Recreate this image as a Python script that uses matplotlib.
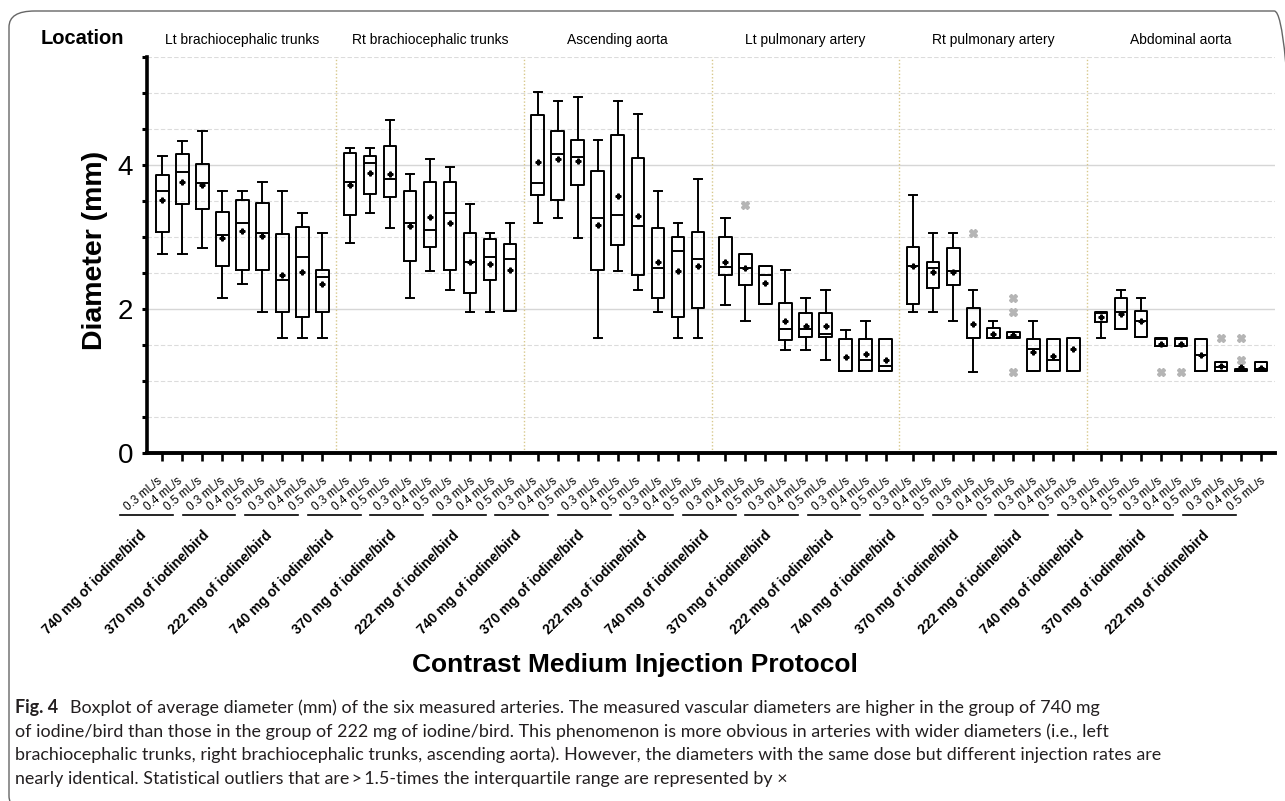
import matplotlib
matplotlib.use("Agg")
import matplotlib.pyplot as plt
import matplotlib.transforms as mtransforms
from matplotlib import font_manager
from matplotlib.lines import Line2D
from matplotlib.patches import FancyBboxPatch
import numpy as np

arteries = ["Lt brachiocephalic trunks", "Rt brachiocephalic trunks", "Ascending aorta",
            "Lt pulmonary artery", "Rt pulmonary artery", "Abdominal aorta"]
doses = ["740 mg of iodine/bird", "370 mg of iodine/bird", "222 mg of iodine/bird"]
rates = ["0.3 mL/s", "0.4 mL/s", "0.5 mL/s"]

# one row per artery, 9 boxes each (740/370/222 mg x 0.3/0.4/0.5 mL/s)
whishi = [
    [4.13, 4.33, 4.47, 3.64, 3.64, 3.76, 3.64, 3.33, 3.06],
    [4.24, 4.24, 4.62, 3.87, 4.09, 3.98, 3.46, 3.06, 3.20],
    [5.02, 4.89, 4.94, 4.35, 4.89, 4.71, 3.64, 3.20, 3.81],
    [3.26, 2.76, 2.60, 2.54, 2.16, 2.27, 1.71, 1.84, 1.59],
    [3.58, 3.06, 3.06, 2.27, 1.84, 1.68, 1.84, 1.59, 1.60],
    [1.96, 2.27, 2.16, 1.60, 1.60, 1.59, 1.27, 1.17, 1.27],
]
q3 = [
    [3.86, 4.15, 4.02, 3.35, 3.52, 3.47, 3.04, 3.14, 2.54],
    [4.17, 4.13, 4.27, 3.64, 3.76, 3.76, 3.06, 2.98, 2.91],
    [4.69, 4.47, 4.35, 3.92, 4.42, 4.10, 3.12, 3.00, 3.07],
    [3.00, 2.76, 2.60, 2.08, 1.95, 1.95, 1.59, 1.59, 1.59],
    [2.87, 2.66, 2.85, 2.02, 1.74, 1.68, 1.59, 1.59, 1.60],
    [1.96, 2.15, 1.97, 1.60, 1.60, 1.59, 1.27, 1.17, 1.27],
]
med = [
    [3.64, 3.91, 3.75, 3.03, 3.20, 3.06, 2.40, 2.73, 2.44],
    [3.77, 4.03, 3.81, 3.20, 3.10, 3.33, 2.65, 2.73, 2.69],
    [3.75, 4.16, 4.11, 3.26, 3.31, 3.16, 2.57, 2.81, 2.69],
    [2.58, 2.57, 2.48, 1.73, 1.73, 1.66, 1.14, 1.29, 1.21],
    [2.60, 2.57, 2.53, 1.60, 1.60, 1.62, 1.45, 1.29, 1.60],
    [1.95, 1.96, 1.84, 1.59, 1.59, 1.37, 1.20, 1.14, 1.17],
]
mean = [
    [3.52, 3.77, 3.72, 2.99, 3.08, 3.01, 2.47, 2.51, 2.35],
    [3.72, 3.89, 3.87, 3.16, 3.28, 3.19, 2.65, 2.63, 2.55],
    [4.04, 4.08, 4.05, 3.17, 3.57, 3.29, 2.66, 2.53, 2.60],
    [2.66, 2.57, 2.37, 1.83, 1.76, 1.76, 1.33, 1.38, 1.30],
    [2.60, 2.52, 2.52, 1.80, 1.66, 1.64, 1.41, 1.35, 1.45],
    [1.89, 1.94, 1.83, 1.51, 1.51, 1.37, 1.21, 1.20, 1.18],
]
q1 = [
    [3.07, 3.46, 3.39, 2.60, 2.54, 2.54, 1.96, 1.89, 1.96],
    [3.31, 3.60, 3.56, 2.67, 2.86, 2.54, 2.22, 2.40, 1.97],
    [3.58, 3.51, 3.73, 2.54, 2.89, 2.47, 2.15, 1.89, 2.02],
    [2.47, 2.34, 2.07, 1.57, 1.61, 1.61, 1.14, 1.14, 1.14],
    [2.07, 2.29, 2.33, 1.60, 1.60, 1.60, 1.14, 1.14, 1.14],
    [1.82, 1.73, 1.61, 1.49, 1.49, 1.14, 1.14, 1.14, 1.14],
]
whislo = [
    [2.77, 2.77, 2.85, 2.16, 2.35, 1.96, 1.60, 1.60, 1.60],
    [2.92, 3.33, 3.13, 2.16, 2.53, 2.27, 1.96, 1.96, 1.97],
    [3.20, 3.26, 2.99, 1.60, 2.53, 2.27, 1.96, 1.60, 1.60],
    [2.06, 1.84, 2.07, 1.44, 1.44, 1.29, 1.14, 1.14, 1.14],
    [1.96, 1.96, 1.84, 1.13, 1.60, 1.60, 1.14, 1.14, 1.14],
    [1.60, 1.73, 1.61, 1.49, 1.49, 1.14, 1.14, 1.14, 1.14],
]
# outliers: (artery, box) -> values
outliers = {
    (3, 1): [3.45],
    (4, 3): [3.06],
    (4, 5): [2.16, 1.96, 1.13],
    (5, 3): [1.13],
    (5, 4): [1.13],
    (5, 6): [1.60],
    (5, 7): [1.60, 1.29],
}

caption = [
    "Boxplot of average diameter (mm) of the six measured arteries. The measured vascular diameters are higher in the group of 740 mg",
    "of iodine/bird than those in the group of 222 mg of iodine/bird. This phenomenon is more obvious in arteries with wider diameters (i.e., left",
    "brachiocephalic trunks, right brachiocephalic trunks, ascending aorta). However, the diameters with the same dose but different injection rates are",
    "nearly identical. Statistical outliers that are\u2009>\u20091.5-times the interquartile range are represented by \u00d7",
]

W, H = 1285, 801
GROUP_STEP = 9.38


def fx(x):
    return x / W


def fy(y):
    return 1 - y / H


plt.rcParams["font.family"] = ["Liberation Sans", "DejaVu Sans"]

fig = plt.figure(figsize=(W / 100, H / 100), dpi=100)
ax = fig.add_axes([fx(146.7), fy(453.3), (1275 - 146.7) / W, (453.3 - 57) / H])

stats = []
positions = []
for g in range(6):
    for i in range(9):
        stats.append(dict(med=med[g][i], q1=q1[g][i], q3=q3[g][i],
                          whislo=whislo[g][i], whishi=whishi[g][i],
                          mean=mean[g][i], fliers=outliers.get((g, i), [])))
        positions.append(g * GROUP_STEP + i)

line = dict(color="black", linewidth=1.4)
ax.bxp(stats, positions=positions, widths=0.63, capwidths=0.42, showmeans=True,
       boxprops=line, whiskerprops=line, capprops=line,
       medianprops=line,
       meanprops=dict(marker="P", markersize=3.5, markerfacecolor="black",
                      markeredgecolor="black"),
       flierprops=dict(marker="X", markersize=6, markerfacecolor="#b5b5b5",
                       markeredgecolor="#b5b5b5"),
       manage_ticks=False, zorder=3)

# grid
for v in np.arange(0.5, 5.51, 0.5):
    if v in (2.0, 4.0):
        ax.axhline(v, color="#d6d6d6", lw=1.0, zorder=0)
    else:
        ax.axhline(v, color="#dcdcdc", lw=0.8, ls=(0, (4, 2)), zorder=0)
for g in range(1, 6):
    ax.axvline(g * GROUP_STEP - (GROUP_STEP - 8) / 2, color="#d8c88c", lw=1.0,
               ls=(0, (1, 1.5)), zorder=0)

ax.set_xlim(-0.78, 55.6)
ax.set_ylim(0, 5.5)
for s in ("top", "right"):
    ax.spines[s].set_visible(False)
ax.spines["left"].set_linewidth(2.6)
ax.spines["bottom"].set_linewidth(2.8)

ax.set_xticks(positions)
ax.set_xticklabels([])
ax.tick_params(axis="x", direction="out", length=5.8, width=1.9)
ax.set_yticks([0, 2, 4])
ax.set_yticks(np.arange(0, 5.51, 0.5), minor=True)
ax.tick_params(axis="y", which="both", direction="out", length=3.8, width=2.2,
               labelsize=20, pad=6)

# artery names above each group
top = mtransforms.blended_transform_factory(ax.transData, fig.transFigure)
for g, name in enumerate(arteries):
    ax.text(g * GROUP_STEP + 4, fy(40), name, transform=top,
            ha="center", va="center", fontsize=10)

fig.text(fx(41), fy(38), "Location", fontsize=14.5, fontweight="bold",
         ha="left", va="center")
fig.text(fx(95), fy(250), "Diameter (mm)", fontsize=20.5, fontweight="bold",
         rotation=90, ha="center", va="center")

# protocol labels under the axis
for k in range(18):
    x0 = 120 + 62.5 * k
    for j, r in enumerate(rates):
        fig.text(fx(x0 + 20 * j + 41), fy(480), r, rotation=40, fontsize=8.5,
                 ha="right", va="center", rotation_mode="anchor")
    fig.add_artist(Line2D([fx(x0), fx(x0 + 53)], [fy(515), fy(515)],
                          color="black", lw=1.2))
    fig.text(fx(x0 + 24.5), fy(533), doses[k % 3], rotation=45, fontsize=10,
             fontweight="bold", ha="right", va="center", rotation_mode="anchor")

fig.text(fx(635), fy(665), "Contrast Medium Injection Protocol", fontsize=19,
         fontweight="bold", ha="center", va="center")

# caption
names = {f.name for f in font_manager.fontManager.ttflist}
cap_font = "Liberation Sans Narrow" if "Liberation Sans Narrow" in names else "Lato"
cap_color = "#231f20"
renderer = fig.canvas.get_renderer()
probe = fig.text(0, 0, caption[2], fontsize=12, family=[cap_font, "DejaVu Sans"])
cap_size = 12 * (1155 - 15) / probe.get_window_extent(renderer).width
probe.remove()

fig.text(fx(15), fy(708), "Fig. 4", fontsize=cap_size, fontweight="bold",
         family=[cap_font, "DejaVu Sans"], color=cap_color, ha="left", va="center")
cap_y = [708, 732, 755, 779]
for n, txt in enumerate(caption):
    x = 70 if n == 0 else 15
    fig.text(fx(x), fy(cap_y[n]), txt, fontsize=cap_size,
             family=[cap_font, "DejaVu Sans"], color=cap_color, ha="left", va="center")

# rounded frame
fig.add_artist(FancyBboxPatch((fx(9), fy(812)), fx(1300) - fx(9), fy(11) - fy(812),
                              boxstyle="round,pad=0,rounding_size=0.02",
                              transform=fig.transFigure, fill=False,
                              edgecolor="#666666", lw=1.0))

fig.savefig("out.png", dpi=100)
